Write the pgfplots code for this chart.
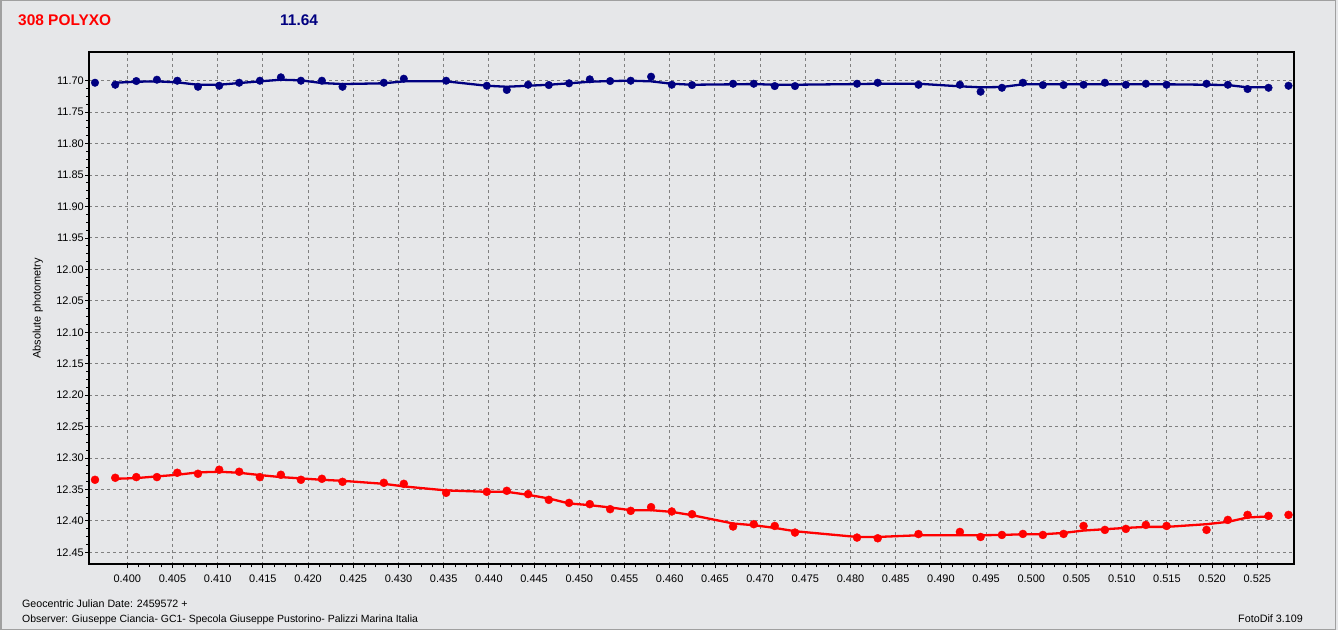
\documentclass[border=0pt]{standalone}
\usepackage{pgfplots}
\pgfplotsset{compat=1.18}
\usepackage{pgfplotstable}
\usepackage{fontspec}
\setmainfont{Liberation Sans}

\definecolor{bgc}{RGB}{230,231,233}
\definecolor{navy}{RGB}{0,0,128}
\definecolor{redc}{RGB}{255,0,0}
\definecolor{gridc}{RGB}{128,128,128}
\definecolor{framec}{RGB}{160,160,160}

% blue: measured points
\pgfplotstableread{
x y
0.39643 11.7032
0.39867 11.7064
0.40100 11.7005
0.40328 11.6984
0.40553 11.7000
0.40782 11.7096
0.41017 11.7080
0.41238 11.7032
0.41467 11.7000
0.41699 11.6946
0.41921 11.7000
0.42153 11.7000
0.42381 11.7096
0.42838 11.7032
0.43059 11.6968
0.43527 11.7000
0.43977 11.7080
0.44198 11.7147
0.44434 11.7064
0.44663 11.7069
0.44887 11.7041
0.45116 11.6978
0.45341 11.7005
0.45569 11.7000
0.45794 11.6936
0.46023 11.7064
0.46247 11.7069
0.46701 11.7048
0.46930 11.7048
0.47162 11.7085
0.47386 11.7085
0.48072 11.7048
0.48301 11.7032
0.48752 11.7064
0.49210 11.7064
0.49439 11.7175
0.49675 11.7112
0.49907 11.7032
0.50128 11.7069
0.50357 11.7069
0.50578 11.7064
0.50814 11.7032
0.51046 11.7064
0.51267 11.7048
0.51496 11.7064
0.51938 11.7048
0.52174 11.7064
0.52392 11.7132
0.52624 11.7112
0.52845 11.7080
}\bluepts

% blue: smoothed curve
\pgfplotstableread{
x y
0.39867 11.7032
0.40100 11.7016
0.40328 11.7010
0.40553 11.7026
0.40782 11.7064
0.41017 11.7064
0.41238 11.7037
0.41467 11.7010
0.41699 11.6984
0.41921 11.6994
0.42153 11.7037
0.42381 11.7053
0.42838 11.7041
0.43059 11.7010
0.43527 11.7010
0.43977 11.7080
0.44198 11.7096
0.44434 11.7080
0.44663 11.7064
0.44887 11.7041
0.45116 11.7016
0.45341 11.7005
0.45569 11.7000
0.45794 11.7010
0.46023 11.7048
0.46247 11.7064
0.46701 11.7057
0.46930 11.7053
0.47162 11.7064
0.47386 11.7064
0.48072 11.7053
0.48301 11.7048
0.48752 11.7048
0.49210 11.7089
0.49439 11.7105
0.49675 11.7100
0.49907 11.7057
0.50128 11.7057
0.50357 11.7057
0.50578 11.7057
0.50814 11.7057
0.51046 11.7057
0.51267 11.7057
0.51496 11.7057
0.51938 11.7064
0.52174 11.7069
0.52392 11.7105
0.52624 11.7105
}\blueline

% red: measured points
\pgfplotstableread{
x y
0.39643 12.3347
0.39867 12.3315
0.40100 12.3304
0.40328 12.3304
0.40553 12.3235
0.40782 12.3251
0.41017 12.3187
0.41238 12.3219
0.41467 12.3304
0.41699 12.3267
0.41921 12.3347
0.42153 12.3331
0.42381 12.3379
0.42838 12.3395
0.43059 12.3411
0.43527 12.3554
0.43977 12.3538
0.44198 12.3522
0.44434 12.3575
0.44663 12.3666
0.44887 12.3714
0.45116 12.3734
0.45341 12.3814
0.45569 12.3841
0.45794 12.3782
0.46023 12.3851
0.46247 12.3894
0.46701 12.4090
0.46930 12.4053
0.47162 12.4081
0.47386 12.4186
0.48072 12.4266
0.48301 12.4277
0.48752 12.4210
0.49210 12.4176
0.49439 12.4256
0.49675 12.4224
0.49907 12.4208
0.50128 12.4224
0.50357 12.4208
0.50578 12.4081
0.50814 12.4144
0.51046 12.4128
0.51267 12.4065
0.51496 12.4081
0.51938 12.4144
0.52174 12.3985
0.52392 12.3905
0.52624 12.3921
0.52845 12.3905
}\redpts

% red: smoothed curve
\pgfplotstableread{
x y
0.39867 12.3331
0.40100 12.3320
0.40328 12.3293
0.40553 12.3267
0.40782 12.3229
0.41017 12.3219
0.41238 12.3235
0.41467 12.3272
0.41699 12.3304
0.41921 12.3325
0.42153 12.3347
0.42381 12.3363
0.42838 12.3411
0.43059 12.3452
0.43527 12.3516
0.43977 12.3538
0.44198 12.3538
0.44434 12.3586
0.44663 12.3644
0.44887 12.3723
0.45116 12.3750
0.45341 12.3787
0.45569 12.3830
0.45794 12.3830
0.46023 12.3857
0.46247 12.3910
0.46701 12.4042
0.46930 12.4069
0.47162 12.4112
0.47386 12.4165
0.48072 12.4256
0.48301 12.4256
0.48752 12.4229
0.49210 12.4229
0.49439 12.4229
0.49675 12.4224
0.49907 12.4213
0.50128 12.4213
0.50357 12.4192
0.50578 12.4154
0.50814 12.4133
0.51046 12.4112
0.51267 12.4096
0.51496 12.4096
0.51938 12.4053
0.52174 12.4016
0.52392 12.3946
0.52624 12.3930
}\redline

\begin{document}
\begin{tikzpicture}
  % window background and frame
  \fill[bgc] (0,0) rectangle (1338bp,630bp);
  \draw[framec, line width=1.5bp] (0.75bp,0.75bp) rectangle (1335.5bp,629.25bp);

  % header
  \node[anchor=base west, inner sep=0pt, text=redc, font=\fontsize{15.5}{18}\selectfont\bfseries]
    at (18bp,604.7bp) {308 POLYXO};
  \node[anchor=base west, inner sep=0pt, text=navy, font=\fontsize{15.5}{18}\selectfont\bfseries]
    at (280bp,604.7bp) {11.64};

  % footer
  \node[anchor=base west, inner sep=0pt, font=\fontsize{10.7}{12}\selectfont]
    at (22bp,23bp) {Geocentric Julian Date: 2459572 +};
  \node[anchor=base west, inner sep=0pt, font=\fontsize{10.5}{12}\selectfont]
    at (22bp,8bp) {Observer: Giuseppe Ciancia- GC1- Specola Giuseppe Pustorino- Palizzi Marina Italia};
  \node[anchor=base east, inner sep=0pt, font=\fontsize{10.8}{12}\selectfont]
    at (1303bp,8bp) {FotoDif 3.109};

  \begin{axis}[
    at={(89.3bp,65.7bp)}, anchor=south west,
    scale only axis,
    width=1205bp, height=512bp,
    xmin=0.3958, xmax=0.52909,
    ymin=11.6548, ymax=12.4691,
    y dir=reverse,
    xtick={0.400,0.405,...,0.526},
    ytick={11.70,11.75,...,12.46},
    minor x tick num=3,
    minor y tick num=3,
    tick pos=left,
    tick align=outside,
    major tick length=4bp,
    minor tick length=3bp,
    every tick/.style={black, line width=0.8bp},
    xticklabel style={/pgf/number format/.cd, fixed, fixed zerofill, precision=3, assume math mode=true},
    yticklabel style={/pgf/number format/.cd, fixed, fixed zerofill, precision=2, assume math mode=true},
    scaled x ticks=false,
    scaled y ticks=false,
    tick label style={font=\fontsize{11}{12}\selectfont},
    xticklabel shift=3bp,
    yticklabel shift=-2bp,
    grid=major,
    grid style={gridc, line width=0.9bp, dash pattern=on 3bp off 3bp},
    axis line style={black, line width=2bp},
    axis background/.style={fill=bgc},
    ylabel={Absolute photometry},
    ylabel style={font=\fontsize{11}{12}\selectfont, at={(axis description cs:0,0.5)}, anchor=south, yshift=43bp},
    clip=false,
  ]
    \addplot[navy, line width=2.3bp] table[x=x, y=y] {\blueline};
    \addplot[only marks, mark=*, mark size=3.8bp, navy, mark options={fill=navy}] table[x=x, y=y] {\bluepts};
    \addplot[redc, line width=2.3bp] table[x=x, y=y] {\redline};
    \addplot[only marks, mark=*, mark size=4bp, redc, mark options={fill=redc}] table[x=x, y=y] {\redpts};
  \end{axis}
\end{tikzpicture}
\end{document}
